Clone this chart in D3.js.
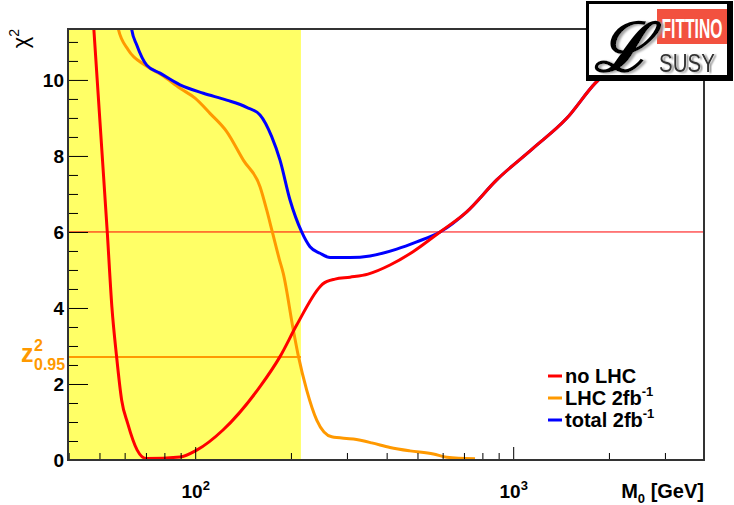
<!DOCTYPE html>
<html>
<head>
<meta charset="utf-8">
<script src="https://cdn.jsdelivr.net/npm/d3@7/dist/d3.min.js"></script>
<style>
  body { margin: 0; background: #fff; }
  text { font-family: "Liberation Sans", Arial, sans-serif; }
</style>
</head>
<body>
<svg width="734" height="505"></svg>
<script>
// values: M0 in GeV, chi2
const noLhcM = [47.6, 52.9, 54.7, 56.6, 58.7, 61.3, 65.7, 70.0, 89.6, 101.1, 122.3, 159.9, 184.8, 208.5, 246.9, 251.7, 275.2, 306.8, 349.4, 409.9, 484.1, 588.8, 714.2, 887.6, 1154, 1473, 1808, 2330];
const noLhcChi2 = [11.8, 6.0, 4.03, 2.72, 1.58, 0.97, 0.26, 0.04, 0.08, 0.26, 0.79, 1.93, 2.72, 3.55, 4.56, 4.63, 4.76, 4.81, 4.89, 5.13, 5.48, 6.0, 6.53, 7.37, 8.2, 8.99, 9.91, 10.66];

const lhcM = [56.5, 57.3, 61.6, 69.5, 78.5, 89.6, 99.9, 111.3, 125.6, 141.7, 159.9, 167.8, 174.8, 183.9, 189.2, 203.5, 211.0, 224.2, 241.1, 268.7, 314.2, 358.9, 409.9, 473.7, 560.9, 617.9, 758.5];
const lhcChi2 = [11.6, 11.34, 10.79, 10.39, 10.13, 9.78, 9.52, 9.12, 8.64, 7.89, 7.19, 6.58, 6.0, 5.28, 4.91, 3.42, 2.74, 1.84, 1.05, 0.61, 0.55, 0.45, 0.33, 0.24, 0.16, 0.07, 0.03];

const totalM = [62.3, 63.1, 65.5, 70.4, 77.5, 89.6, 106.1, 125.6, 145.2, 159.9, 174.0, 184.8, 198.7, 216.2, 229.6, 246.9, 265.5, 306.8, 354.5, 430.2, 497.3, 588.8, 714.2, 887.6, 1154, 1473, 1808, 2330];
const totalChi2 = [11.7, 11.34, 10.92, 10.39, 10.18, 9.87, 9.65, 9.47, 9.28, 9.08, 8.51, 7.89, 6.84, 6.0, 5.61, 5.44, 5.33, 5.33, 5.37, 5.55, 5.74, 6.0, 6.53, 7.37, 8.2, 8.99, 9.91, 10.66];

const excludedMax = 215;      // yellow band: M0 below this
const chi2Line = 6;           // red horizontal line
const z95 = 2.71;             // orange horizontal line

const yMajor = [0, 2, 4, 6, 8, 10];
const xMajor = [100, 1000];
const xMajorExp = ['2', '3'];

const legendNames = ['no LHC', 'LHC 2fb', 'total 2fb'];
const legendSup = ['', '-1', '-1'];
const legendColors = ['#ff0000', '#ff9900', '#0000ff'];

(function (d3) {
    'use strict';

    const svg = d3.select('svg');
    const pLeft = 68, pRight = 704, pTop = 29, pBottom = 460;

    const x = d3.scaleLog().domain([Math.pow(10, 1.6), Math.pow(10, 3.6)]).range([pLeft, pRight]);
    const y = d3.scaleLinear().domain([0, 11.34]).range([pBottom, pTop]);

    // shadow used by the logo
    const shadow = svg.append('defs').append('filter').attr('id', 'shadow')
        .attr('x', '-20%').attr('y', '-20%').attr('width', '150%').attr('height', '150%');
    shadow.append('feDropShadow')
        .attr('dx', 3).attr('dy', 1).attr('stdDeviation', 0.8)
        .attr('flood-color', '#999').attr('flood-opacity', 0.9);

    // yellow band
    svg.append('rect')
        .attr('x', pLeft)
        .attr('y', pTop)
        .attr('width', x(excludedMax) - pLeft)
        .attr('height', pBottom - pTop)
        .attr('fill', '#ffff66');

    // horizontal reference lines
    svg.append('line')
        .attr('x1', pLeft).attr('x2', pRight)
        .attr('y1', y(chi2Line)).attr('y2', y(chi2Line))
        .attr('stroke', '#ff0000').attr('stroke-width', 1);

    svg.append('line')
        .attr('x1', pLeft).attr('x2', x(excludedMax))
        .attr('y1', y(z95)).attr('y2', y(z95))
        .attr('stroke', '#ff9900').attr('stroke-width', 2);

    // curves
    svg.append('clipPath').attr('id', 'plot')
      .append('rect')
        .attr('x', pLeft).attr('y', pTop)
        .attr('width', pRight - pLeft).attr('height', pBottom - pTop + 1);

    const line = d3.line()
        .x(d => x(d[0]))
        .y(d => y(d[1]))
        .curve(d3.curveMonotoneX);

    const series = [
        [lhcM, lhcChi2, '#ff9900'],
        [totalM, totalChi2, '#0000ff'],
        [noLhcM, noLhcChi2, '#ff0000']
    ];
    series.forEach(s => {
        svg.append('path')
            .attr('clip-path', 'url(#plot)')
            .attr('d', line(d3.zip(s[0], s[1])))
            .attr('fill', 'none')
            .attr('stroke', s[2])
            .attr('stroke-width', 3)
            .attr('stroke-linejoin', 'round');
    });

    // x axis, ticks pointing inward
    const xMinor = [];
    [10, 100, 1000].forEach(dec => {
        for (let k = 1; k <= 9; k++) {
            const v = k * dec;
            if (v >= x.domain()[0] && v <= x.domain()[1] && xMajor.indexOf(v) < 0) xMinor.push(v);
        }
    });

    svg.append('g')
        .attr('transform', `translate(0, ${pBottom})`)
        .call(d3.axisBottom(x).tickValues(xMinor).tickSize(-7).tickFormat(''))
        .call(g => g.select('.domain').remove());

    const xAxis = svg.append('g')
        .attr('transform', `translate(0, ${pBottom})`)
        .call(d3.axisBottom(x).tickValues(xMajor).tickSize(-13).tickFormat(''))
        .call(g => g.select('.domain').remove());

    xAxis.selectAll('.tick text').each(function (d, i) {
        const t = d3.select(this)
            .attr('font-size', 19).attr('font-weight', 'bold').attr('fill', '#000')
            .attr('dy', 0).attr('y', 38).attr('text-anchor', 'middle');
        t.append('tspan').text('10');
        t.append('tspan').attr('dy', -8).attr('font-size', 13).text(xMajorExp[i]);
    });

    // y axis
    const yMinor = d3.range(0, 11.34, 0.5).filter(v => v % 2 !== 0);

    svg.append('g')
        .attr('transform', `translate(${pLeft}, 0)`)
        .call(d3.axisLeft(y).tickValues(yMinor).tickSize(-10).tickFormat(''))
        .call(g => g.select('.domain').remove());

    svg.append('g')
        .attr('transform', `translate(${pLeft}, 0)`)
        .call(d3.axisLeft(y).tickValues(yMajor).tickSize(-20).tickPadding(4).tickFormat(d3.format('d')))
        .call(g => g.select('.domain').remove())
        .call(g => g.selectAll('.tick text')
            .attr('font-size', 19).attr('font-weight', 'bold').attr('fill', '#000'));

    svg.selectAll('.tick line').attr('stroke', '#000').attr('stroke-width', 1);

    // frame
    svg.append('path')
        .attr('d', `M${pLeft},${pBottom}V${pTop}H${pRight}V${pBottom}Z`)
        .attr('fill', 'none')
        .attr('stroke', '#333')
        .attr('stroke-width', 2);

    // axis titles
    svg.append('text')
        .attr('transform', `translate(28, ${pTop}) rotate(-90)`)
        .attr('text-anchor', 'end')
        .attr('font-size', 22)
        .text('\u03c7')
      .append('tspan')
        .attr('dy', -9).attr('font-size', 14).text('2');

    const mTitle = svg.append('text')
        .attr('x', pRight).attr('y', 498)
        .attr('text-anchor', 'end')
        .attr('font-size', 20).attr('font-weight', 'bold');
    mTitle.append('tspan').text('M');
    mTitle.append('tspan').attr('dy', 5).attr('font-size', 13).text('0');
    mTitle.append('tspan').attr('dy', -5).text(' [GeV]');

    // z^2_0.95 label
    const zLabel = svg.append('g').attr('fill', '#ff9900').attr('font-weight', 'bold');
    zLabel.append('text').attr('x', 21).attr('y', 362).attr('font-size', 25).text('z');
    zLabel.append('text').attr('x', 34).attr('y', 351).attr('font-size', 16).text('2');
    zLabel.append('text').attr('x', 34).attr('y', 370).attr('font-size', 16).text('0.95');

    // legend
    const legend = svg.append('g').attr('transform', 'translate(548, 376)');
    legendNames.forEach((name, i) => {
        const row = legend.append('g').attr('transform', `translate(0, ${i * 22})`);
        row.append('line')
            .attr('x1', 0).attr('x2', 14)
            .attr('stroke', legendColors[i]).attr('stroke-width', 3);
        const t = row.append('text')
            .attr('x', 17).attr('y', 7)
            .attr('font-size', 20).attr('font-weight', 'bold')
            .text(name);
        if (legendSup[i]) {
            t.append('tspan').attr('dy', -9).attr('font-size', 13).text(legendSup[i]);
        }
    });

    // Fittino logo
    const logo = svg.append('g');
    logo.append('rect').attr('x', 586).attr('y', 1).attr('width', 147).attr('height', 80).attr('fill', '#000');
    logo.append('rect').attr('x', 589).attr('y', 4).attr('width', 138).attr('height', 71).attr('fill', '#fff');
    logo.append('rect').attr('x', 657).attr('y', 9).attr('width', 70).attr('height', 35).attr('fill', '#f2513f');
    logo.append('text')
        .attr('transform', 'translate(692, 38) scale(0.56, 1)')
        .attr('text-anchor', 'middle')
        .attr('font-size', 28).attr('font-weight', 'bold').attr('fill', '#fff')
        .text('FITTINO');
    logo.append('text')
        .attr('transform', 'translate(687, 72) scale(0.82, 1)')
        .attr('text-anchor', 'middle')
        .attr('font-size', 25).attr('fill', '#333')
        .attr('filter', 'url(#shadow)')
        .text('SUSY');
    logo.append('text')
        .attr('x', 594).attr('y', 71)
        .attr('font-family', '"DejaVu Serif", serif')
        .attr('font-style', 'italic').attr('font-weight', 'bold')
        .attr('font-size', 68).attr('fill', '#000')
        .attr('filter', 'url(#shadow)')
        .text('\u2112');

}(d3));
</script>
</body>
</html>
